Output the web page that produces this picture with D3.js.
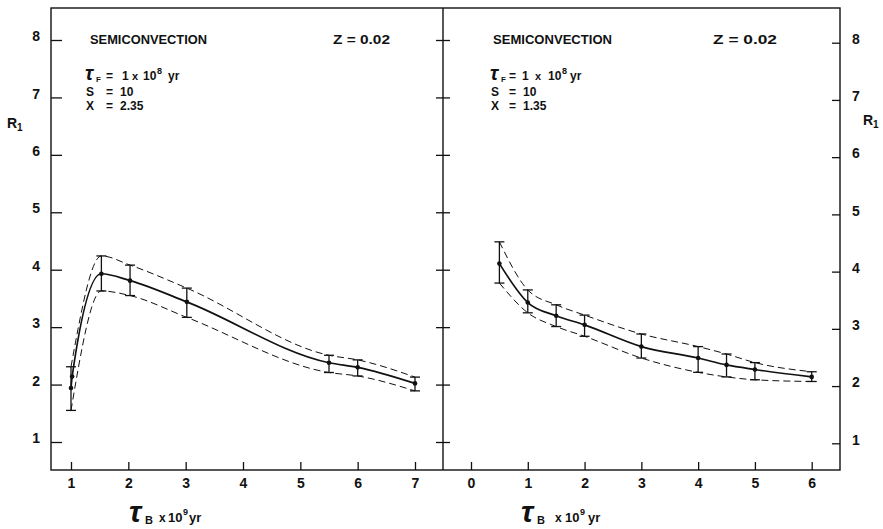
<!DOCTYPE html>
<html><head><meta charset="utf-8">
<script src="https://cdn.jsdelivr.net/npm/d3@7"></script>
<style>
html,body{margin:0;padding:0;background:#fff;}
svg{display:block;}
text{font-family:"Liberation Sans",Arial,Helvetica,sans-serif;font-weight:bold;fill:#111;}
</style></head>
<body><svg id="c" width="883" height="529"></svg>
<script>
// ---- data ----
// left panel: X = 2.35
const leftX  = [1.0, 1.53, 2.03, 3.02, 5.5, 6.0, 7.0];
const leftR  = [1.94, 3.93, 3.81, 3.44, 2.38, 2.30, 2.02];
const leftHi = [2.31, 4.24, 4.08, 3.68, 2.51, 2.43, 2.13];
const leftLo = [1.55, 3.63, 3.55, 3.17, 2.21, 2.15, 1.89];
const leftExtraX = [1.02];
const leftExtraR = [2.14];
// right panel: X = 1.35
const rightX  = [0.5, 1.0, 1.5, 2.0, 3.0, 4.0, 4.5, 5.0, 6.0];
const rightR  = [4.14, 3.46, 3.23, 3.07, 2.69, 2.49, 2.37, 2.29, 2.16];
const rightHi = [4.52, 3.68, 3.42, 3.24, 2.91, 2.69, 2.56, 2.41, 2.25];
const rightLo = [3.80, 3.28, 3.04, 2.87, 2.49, 2.24, 2.16, 2.11, 2.08];
// ticks
const yTicks = [1, 2, 3, 4, 5, 6, 7, 8];
const leftXTicks = [1, 2, 3, 4, 5, 6, 7];
const rightXTicks = [0, 1, 2, 3, 4, 5, 6];
const titleText = "SEMICONVECTION";
const zText = "Z = 0.02";
const leftParam = {S: "10", X: "2.35"};
const rightParam = {S: "10", X: "1.35"};

// ---- layout ----
const svg = d3.select("#c");
const frame = {l: 51, m: 443, r: 840, t: 8, b: 470};

const xL = d3.scaleLinear().domain([1, 7]).range([71, 415]);
const yL = d3.scaleLinear().domain([1, 8]).range([442, 40]);
const xR = d3.scaleLinear().domain([0, 6]).range([471, 811.7]);
const yR = d3.scaleLinear().domain([1, 8]).range([443.3, 42.7]);
const fmt = d3.format("d");

// frame
const fr = svg.append("g").attr("fill", "none").attr("stroke", "#111").attr("stroke-width", 1.4);
fr.append("rect").attr("x", frame.l).attr("y", frame.t).attr("width", frame.r - frame.l).attr("height", frame.b - frame.t);
fr.append("line").attr("x1", frame.m).attr("x2", frame.m).attr("y1", frame.t).attr("y2", frame.b);

function styleAxis(g) {
  g.select(".domain").remove();
  g.selectAll(".tick line").attr("stroke", "#111").attr("stroke-width", 1.3);
  g.selectAll(".tick text").attr("font-size", 14).attr("fill", "#111")
    .attr("font-family", '"Liberation Sans",Arial,sans-serif').attr("font-weight", "bold");
}

// left y axis
svg.append("g").attr("transform", `translate(${frame.l},0)`)
  .call(d3.axisLeft(yL).tickValues(yTicks).tickFormat(fmt).tickSizeInner(-11).tickSizeOuter(0).tickPadding(11))
  .call(styleAxis).call(g => g.selectAll(".tick text").attr("dy", "0.05em"));
// divider ticks (both sides)
svg.append("g").attr("transform", `translate(${frame.m + 7},0)`)
  .call(d3.axisLeft(yL).tickValues(yTicks).tickSizeInner(14).tickSizeOuter(0).tickFormat(""))
  .call(styleAxis);
// right y axis
svg.append("g").attr("transform", `translate(${frame.r},0)`)
  .call(d3.axisRight(yR).tickValues(yTicks).tickFormat(fmt).tickSizeInner(-8).tickSizeOuter(0).tickPadding(12))
  .call(styleAxis).call(g => g.selectAll(".tick text").attr("dy", "0.05em"));
// bottom axes
svg.append("g").attr("transform", `translate(0,${frame.b})`)
  .call(d3.axisBottom(xL).tickValues(leftXTicks).tickFormat(fmt).tickSizeInner(-8).tickSizeOuter(0).tickPadding(8))
  .call(styleAxis);
svg.append("g").attr("transform", `translate(0,${frame.b})`)
  .call(d3.axisBottom(xR).tickValues(rightXTicks).tickFormat(fmt).tickSizeInner(-8).tickSizeOuter(0).tickPadding(8))
  .call(styleAxis);

// ---- curves ----
function panel(xs, ys, X, R, Hi, Lo, extraX, extraR) {
  const g = svg.append("g");
  const line = d3.line().x(d => xs(d[0])).y(d => ys(d[1])).curve(d3.curveMonotoneX);
  const mid = X.map((x, i) => [x, R[i]]).concat(extraX.map((x, i) => [x, extraR[i]])).sort((a, b) => a[0] - b[0]);
  g.append("path").attr("d", line(X.map((x, i) => [x, Hi[i]])))
    .attr("fill", "none").attr("stroke", "#111").attr("stroke-width", 1).attr("stroke-dasharray", "7,4");
  g.append("path").attr("d", line(X.map((x, i) => [x, Lo[i]])))
    .attr("fill", "none").attr("stroke", "#111").attr("stroke-width", 1).attr("stroke-dasharray", "7,4");
  g.append("path").attr("d", line(mid))
    .attr("fill", "none").attr("stroke", "#111").attr("stroke-width", 1.7);
  // error bars
  X.forEach((x, i) => {
    const px = xs(x);
    g.append("line").attr("x1", px).attr("x2", px).attr("y1", ys(Hi[i])).attr("y2", ys(Lo[i]))
      .attr("stroke", "#111").attr("stroke-width", 1.3);
    [Hi[i], Lo[i]].forEach(v => g.append("line").attr("x1", px - 5).attr("x2", px + 5)
      .attr("y1", ys(v)).attr("y2", ys(v)).attr("stroke", "#111").attr("stroke-width", 1.3));
  });
  mid.forEach(d => g.append("circle").attr("cx", xs(d[0])).attr("cy", ys(d[1])).attr("r", 2.3).attr("fill", "#111"));
}
panel(xL, yL, leftX, leftR, leftHi, leftLo, leftExtraX, leftExtraR);
panel(xR, yR, rightX, rightR, rightHi, rightLo, [], []);

// ---- text ----
const TAU = "\u03C4";
function txt(x, y, s, size, opts = {}) {
  const t = svg.append("text").attr("x", x).attr("y", y).attr("font-size", size).text(s);
  if (opts.len) t.attr("textLength", opts.len).attr("lengthAdjust", "spacingAndGlyphs");
  if (opts.tau) t.attr("font-family", '"DejaVu Serif",serif').attr("font-style", "italic");
  if (opts.normal) t.attr("font-weight", "normal");
  return t;
}
// panel headers
txt(90, 44, titleText, 12, {len: 117});
txt(333, 44, zText, 12, {len: 57});
txt(493, 44, titleText, 12, {len: 119});
txt(713, 44, zText, 12, {len: 64});

// parameter blocks
function params(p, pos) {
  txt(pos.tau, 80, TAU, 20, {tau: true});
  txt(pos.tau + 11, 82, "F", 8);
  txt(pos.eq, 80, "=", 12);
  txt(pos.one, 80, "1", 12);
  txt(pos.x, 80, "x", 11, {normal: true});
  txt(pos.ten, 80, "10", 12);
  txt(pos.ten + 14, 74, "8", 9);
  txt(pos.yr, 80, "yr", 12);
  txt(pos.s, 96, "S", 12); txt(pos.eq, 96, "=", 12); txt(pos.val, 96, p.S, 12);
  txt(pos.s, 110, "X", 12); txt(pos.eq, 110, "=", 12); txt(pos.val, 110, p.X, 12);
}
params(leftParam, {tau: 85, eq: 106, one: 122, x: 132, ten: 143, yr: 168, s: 86, val: 120});
params(rightParam, {tau: 490, eq: 509, one: 522, x: 535, ten: 548, yr: 570, s: 491, val: 523});

// y-axis titles R1
txt(7, 128, "R", 14); txt(17, 131, "1", 10);
txt(863, 125, "R", 14); txt(873, 128, "1", 10);

// x-axis titles
function xTitle(pos) {
  txt(pos.tau, 522, TAU, 30, {tau: true});
  txt(pos.tau + 16, 524, "B", 11);
  txt(pos.x, 522, "x", 12, {normal: true});
  txt(pos.ten, 522, "10", 13);
  txt(pos.ten + 15, 515, "9", 9);
  txt(pos.yr, 522, "yr", 13);
}
xTitle({tau: 129, x: 159, ten: 168, yr: 189});
xTitle({tau: 521, x: 555, ten: 565, yr: 588});
</script></body></html>
